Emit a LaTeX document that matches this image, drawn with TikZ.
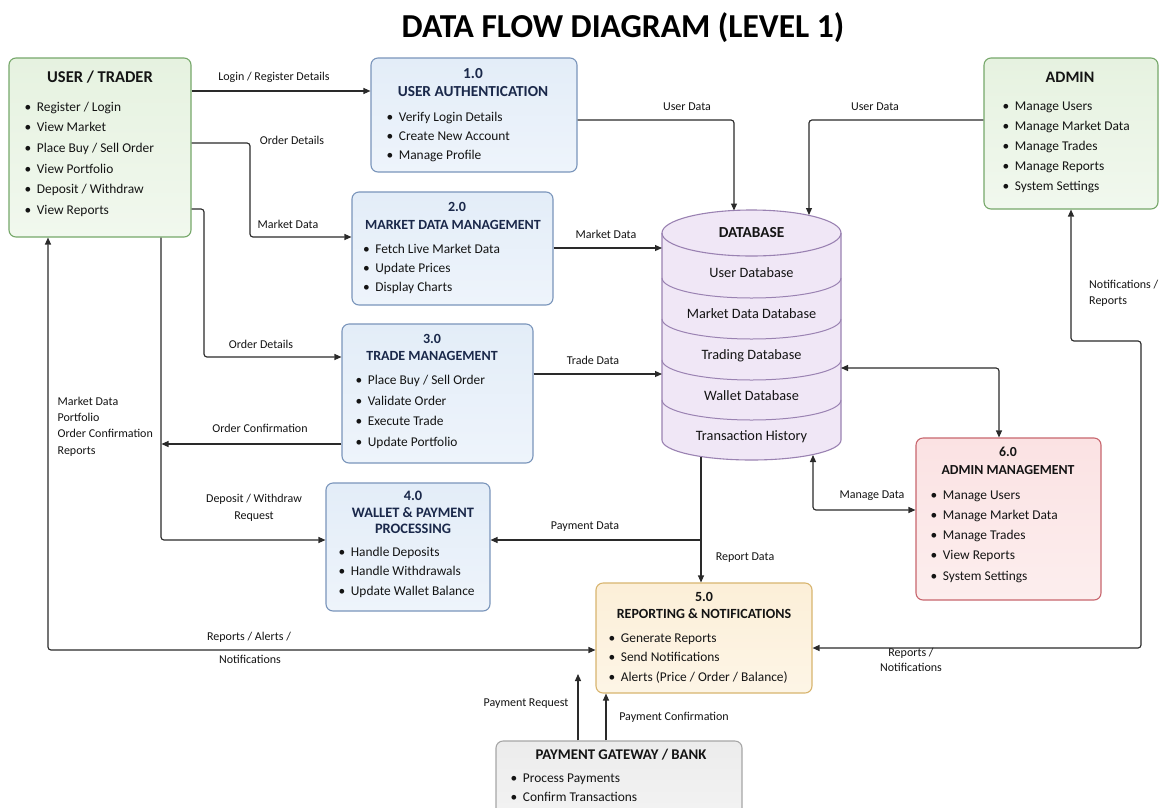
\documentclass[tikz,border=0pt]{standalone}
\usepackage{fontspec}
\setmainfont{Carlito}
\usetikzlibrary{arrows.meta}
\definecolor{linec}{HTML}{2A2A2A}
\definecolor{txt}{HTML}{141414}
\definecolor{navy}{HTML}{1A284A}
\definecolor{grnfill}{HTML}{E6F2E0}
\definecolor{grnfill2}{HTML}{F1F8EE}
\definecolor{grnline}{HTML}{76A86A}
\definecolor{blufill}{HTML}{E3EDF8}
\definecolor{blufill2}{HTML}{EEF4FB}
\definecolor{bluline}{HTML}{7A95BB}
\definecolor{dbfill}{HTML}{F0E7F6}
\definecolor{dbline}{HTML}{9A82B2}
\definecolor{redfill}{HTML}{FBE2E3}
\definecolor{redfill2}{HTML}{FCEEEE}
\definecolor{redline}{HTML}{C8666E}
\definecolor{orfill}{HTML}{FCEFD8}
\definecolor{orfill2}{HTML}{FDF5E6}
\definecolor{orline}{HTML}{D8B56F}
\definecolor{gryfill}{HTML}{ECECEC}
\definecolor{gryfill2}{HTML}{F4F4F4}
\definecolor{gryline}{HTML}{A6A6A6}
\newcommand\itemlist[5]{%
  \foreach \t [count=\i] in {#5} {\node[itm] (#1-\i) at (#2, {#3+(\i-1)*#4}) {\textbullet\hspace{5.5pt}\t};}}
\newcommand\fs[1]{\fontsize{#1}{#1}\selectfont}
\begin{document}
\begin{tikzpicture}[x=1pt,y=-1pt,
  box/.style={rounded corners=7pt, line width=1.1pt, inner sep=0pt},
  itm/.style={anchor=mid west, inner sep=0pt, text=txt, font=\fs{13.4}},
  ttl/.style={anchor=mid, inner sep=0pt, text=txt, font=\bfseries\fs{14}},
  ptl/.style={anchor=mid, inner sep=0pt, text=navy, font=\bfseries\fs{14}},
  lbl/.style={anchor=mid, inner sep=0pt, text=txt, font=\fs{12}},
  dbl/.style={anchor=mid, inner sep=0pt, text=txt, font=\fs{14.3}},
  flow/.style={draw=linec, line width=1.15pt, rounded corners=3pt},
  >={Triangle[length=7pt,width=6pt]}]
\useasboundingbox (0,0) rectangle (1160,807);
\fill[white] (0,0) rectangle (1160,807);

% title
\node[anchor=mid, inner sep=0pt, text=black, font=\bfseries\fs{33.5}] (title) at (623,35) {DATA FLOW DIAGRAM (LEVEL 1)};

% boxes
\node[box, draw=grnline, top color=grnfill, bottom color=grnfill2, minimum width=182, minimum height=179] (user) at (100,147.5) {};
\node[box, draw=bluline, top color=blufill, bottom color=blufill2, minimum width=206, minimum height=114] (auth) at (474,115) {};
\node[box, draw=bluline, top color=blufill, bottom color=blufill2, minimum width=201, minimum height=113] (mkt) at (452.5,248.5) {};
\node[box, draw=bluline, top color=blufill, bottom color=blufill2, minimum width=191, minimum height=139] (trade) at (437.5,393.5) {};
\node[box, draw=bluline, top color=blufill, bottom color=blufill2, minimum width=164, minimum height=128] (wallet) at (408,547) {};
\node[box, draw=grnline, top color=grnfill, bottom color=grnfill2, minimum width=174, minimum height=151] (admin) at (1071,133.5) {};
\node[box, draw=redline, top color=redfill, bottom color=redfill2, minimum width=185, minimum height=162] (adm6) at (1008.5,519) {};
\node[box, draw=orline, top color=orfill, bottom color=orfill2, minimum width=216, minimum height=110] (rep) at (704,638) {};
\node[box, draw=gryline, top color=gryfill, bottom color=gryfill2, minimum width=246, minimum height=89] (gate) at (619,785.5) {};

% database cylinder
\fill[dbfill] (662,233) -- (662,440) arc[start angle=180,end angle=0,x radius=89.5,y radius=20] -- (841,233) arc[start angle=0,end angle=-180,x radius=89.5,y radius=23] -- cycle;
\draw[dbline, line width=1.1pt] (662,233) -- (662,440) arc[start angle=180,end angle=0,x radius=89.5,y radius=20] -- (841,233);
\draw[dbline, line width=1.1pt] (751.5,233) ellipse[x radius=89.5, y radius=23];
\foreach \c in {278,319,360,400} {\draw[dbline, line width=1pt] (662,\c) arc[start angle=180,end angle=0,x radius=89.5,y radius=20];}
\node[anchor=mid, inner sep=0pt, text=txt, font=\bfseries\fs{15.3}] (db-t) at (751.5,235) {DATABASE};
\node[dbl] (db-1) at (751.5,275) {User Database};
\node[dbl] (db-2) at (751.5,316) {Market Data Database};
\node[dbl] (db-3) at (751.5,357) {Trading Database};
\node[dbl] (db-4) at (751.5,398) {Wallet Database};
\node[dbl] (db-5) at (751.5,438) {Transaction History};
\coordinate (dbA) at (734,210.5);
\coordinate (dbB) at (809,215);
\coordinate (dbL1) at (662,248);
\coordinate (dbL2) at (662,374);
\coordinate (dbR) at (841,368);
\coordinate (dbBL) at (701,456.5);
\coordinate (dbBR) at (813,455);

% box texts
\node[ttl, font=\bfseries\fs{16.5}] (user-t) at (100,80) {USER / TRADER};
\itemlist{user}{24.5}{109}{20.6}{Register / Login, View Market, Place Buy / Sell Order, View Portfolio, Deposit / Withdraw, View Reports}

\node[ptl, font=\bfseries\fs{15.3}] (auth-n) at (473,76) {1.0};
\node[ptl, font=\bfseries\fs{15.3}] (auth-t) at (473,94.5) {USER AUTHENTICATION};
\itemlist{auth}{386.5}{119}{19.2}{Verify Login Details, Create New Account, Manage Profile}

\node[ptl] (mkt-n) at (457,209) {2.0};
\node[ptl] (mkt-t) at (453,227) {MARKET DATA MANAGEMENT};
\itemlist{mkt}{363}{251}{19.2}{Fetch Live Market Data, Update Prices, Display Charts}

\node[ptl] (trade-n) at (432,341) {3.0};
\node[ptl] (trade-t) at (432,358) {TRADE MANAGEMENT};
\itemlist{trade}{355.5}{382}{20.7}{Place Buy / Sell Order, Validate Order, Execute Trade, Update Portfolio}

\node[ptl, font=\bfseries\fs{14.4}] (wallet-n) at (413,498) {4.0};
\node[ptl, font=\bfseries\fs{14.4}] (wallet-t) at (413,515) {WALLET \& PAYMENT};
\node[ptl, font=\bfseries\fs{14.4}] (wallet-t2) at (413,531) {PROCESSING};
\itemlist{wallet}{338.5}{554}{19.5}{Handle Deposits, Handle Withdrawals, Update Wallet Balance}

\node[ttl, font=\bfseries\fs{16}] (admin-t) at (1070,80) {ADMIN};
\itemlist{admin}{1002.5}{108.5}{20}{Manage Users, Manage Market Data, Manage Trades, Manage Reports, System Settings}

\node[ttl, font=\bfseries\fs{13.8}] (adm6-n) at (1008,454) {6.0};
\node[ttl, font=\bfseries\fs{13.8}] (adm6-t) at (1008,472) {ADMIN MANAGEMENT};
\itemlist{adm6}{930.5}{497}{20.2}{Manage Users, Manage Market Data, Manage Trades, View Reports, System Settings}

\node[ttl] (rep-n) at (704,599) {5.0};
\node[ttl] (rep-t) at (704,616) {REPORTING \& NOTIFICATIONS};
\itemlist{rep}{608.5}{640}{19.5}{Generate Reports, Send Notifications, Alerts (Price / Order / Balance)}

\node[ttl, font=\bfseries\fs{14.8}] (gate-t) at (621,757) {PAYMENT GATEWAY / BANK};
\itemlist{gate}{510.5}{780}{19}{Process Payments, Confirm Transactions}

% connectors
\draw[flow,->] (user.east |- 0,91) -- (auth.west |- 0,91);
\draw[flow,->] (user.east |- 0,143) -- (250,143) -- (250,237) -- (mkt.west |- 0,237);
\draw[flow,->] (user.east |- 0,209) -- (204,209) -- (204,357) -- (trade.west |- 0,357);
\draw[flow,->] (user.south -| 161,0) -- (161,540) -- (wallet.west |- 0,540);
\draw[flow,->] (trade.west |- 0,444) -- (161.5,444);
\draw[flow,<->] (user.south -| 48,0) -- (48,650) -- (rep.west |- 0,650);
\draw[flow,->] (auth.east |- 0,120) -- (734,120) -- (dbA);
\draw[flow,->] (admin.west |- 0,120) -- (809,120) -- (dbB);
\draw[flow,->] (mkt.east |- 0,248) -- (dbL1);
\draw[flow,->] (trade.east |- 0,374) -- (dbL2);
\draw[flow,<->] (dbR) -- (999,368) -- (adm6.north -| 999,0);
\draw[flow,<->] (dbBR) -- (813,510) -- (adm6.west |- 0,510);
\draw[flow,->] (dbBL) -- (rep.north -| 701,0);
\coordinate (jn) at (701,540);
\draw[flow,->] (jn) -- (wallet.east |- 0,540);
\draw[flow,<->] (admin.south -| 1071,0) -- (1071,341) -- (1141,341) -- (1141,648) -- (rep.east |- 0,648);
\coordinate (pr) at (578,674);
\draw[flow,->] (gate.north -| 578,0) -- (pr);
\draw[flow,->] (gate.north -| 606,0) -- (rep.south -| 606,0);

% labels
\node[lbl] (l1) at (274,78) {Login / Register Details};
\node[lbl] (l2) at (292,142) {Order Details};
\node[lbl] (l3) at (288,226) {Market Data};
\node[lbl] (l4) at (261,346) {Order Details};
\node[lbl] (l5) at (260,430) {Order Confirmation};
\node[lbl, align=center, font=\fontsize{12}{17}\selectfont] (l6) at (254,517.5) {Deposit / Withdraw\\Request};
\node[lbl, anchor=west, align=left, font=\fontsize{12}{16.3}\selectfont] (l7) at (57.5,426.5) {Market Data\\Portfolio\\Order Confirmation\\Reports};
\node[lbl] (l8) at (249,638) {Reports / Alerts /};
\node[lbl] (l9) at (250,661) {Notifications};
\node[lbl] (l10) at (687,108) {User Data};
\node[lbl] (l11) at (875,108) {User Data};
\node[lbl] (l12) at (606,236) {Market Data};
\node[lbl] (l13) at (593,362) {Trade Data};
\node[lbl] (l14) at (585,527) {Payment Data};
\node[lbl] (l15) at (745,558) {Report Data};
\node[lbl] (l16) at (872,496) {Manage Data};
\node[lbl, anchor=west, align=left, font=\fontsize{12}{16.5}\selectfont] (l17) at (1089,293.5) {Notifications /\\Reports};
\node[lbl, align=center, font=\fontsize{12}{15}\selectfont] (l18) at (911,669.5) {Reports /\\Notifications};
\node[lbl] (l19) at (526,704) {Payment Request};
\node[lbl] (l20) at (674,718) {Payment Confirmation};
\end{tikzpicture}
\end{document}
